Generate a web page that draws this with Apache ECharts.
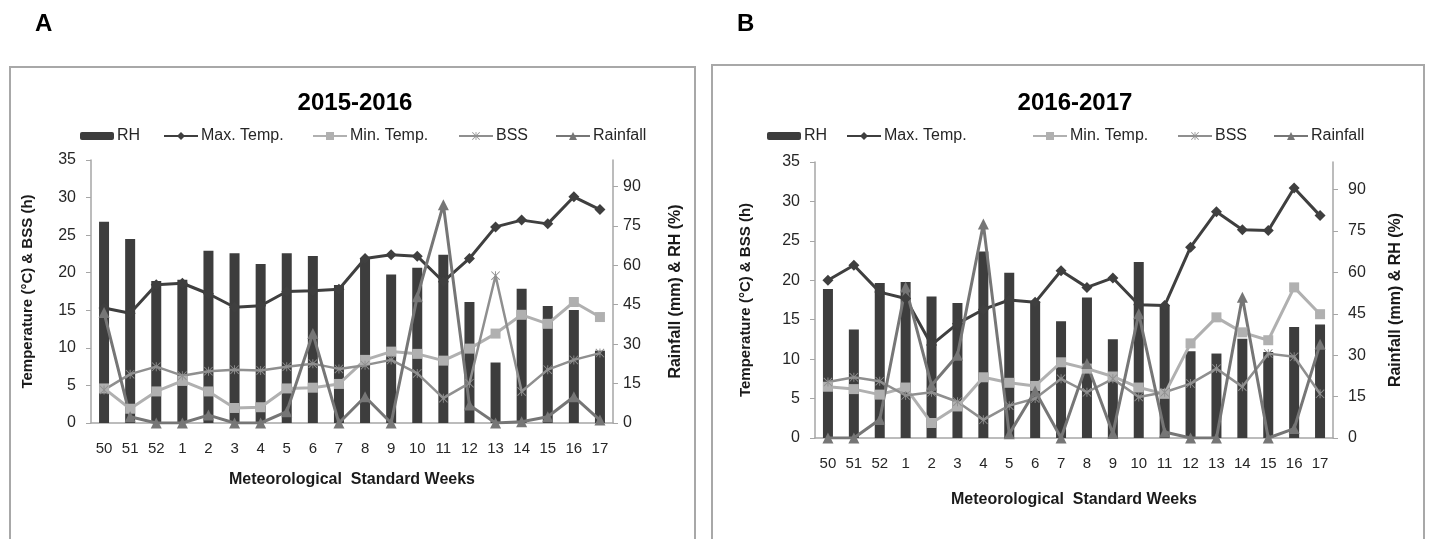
<!DOCTYPE html>
<html>
<head>
<meta charset="utf-8">
<script src="https://cdn.jsdelivr.net/npm/echarts@6/dist/echarts.min.js"></script>
<style>
html, body { margin: 0; padding: 0; background: #ffffff; }
#main { width: 1429px; height: 539px; }
</style>
</head>
<body>
<div id="main"></div>
<script>
// meteorological standard weeks (x axis)
var weeks = ['50', '51', '52', '1', '2', '3', '4', '5', '6', '7', '8', '9', '10', '11', '12', '13', '14', '15', '16', '17'];

// 2015-2016 (panel A)
var rhA = [76.5, 70, 54, 54.5, 65.5, 64.5, 60.5, 64.5, 63.5, 52.5, 62.5, 56.5, 59, 64, 46, 23, 51, 44.5, 43, 27.5];
var maxA = [15.3, 14.6, 18.4, 18.6, 17.2, 15.4, 15.6, 17.5, 17.6, 17.8, 21.9, 22.4, 22.2, 18.8, 21.9, 26.1, 27.0, 26.5, 30.1, 28.4];
var minA = [4.6, 1.9, 4.2, 5.6, 4.2, 2.0, 2.1, 4.6, 4.7, 5.2, 8.4, 9.5, 9.2, 8.3, 9.9, 11.9, 14.4, 13.2, 16.1, 14.1];
var bssA = [4.4, 6.5, 7.5, 6.3, 6.9, 7.1, 7.0, 7.5, 7.9, 7.2, 7.7, 8.4, 6.6, 3.3, 5.3, 19.6, 4.2, 7.1, 8.4, 9.3];
var rainA = [42, 2.4, 0, 0, 3, 0, 0, 4.3, 34, 0, 10, 0, 48, 83, 6.8, 0, 0.5, 2.4, 10, 1.1];

// 2016-2017 (panel B)
var rhB = [54, 39.3, 56.2, 56.5, 51.3, 48.9, 67.6, 59.9, 49.5, 42.3, 50.9, 35.8, 63.8, 48, 31.4, 30.6, 36, 31.2, 40.2, 41.1];
var maxB = [20.0, 21.9, 18.5, 17.7, 11.8, 14.5, 16.3, 17.5, 17.2, 21.2, 19.1, 20.3, 16.9, 16.8, 24.2, 28.7, 26.4, 26.3, 31.7, 28.2];
var minB = [6.5, 6.2, 5.5, 6.4, 1.9, 4.0, 7.7, 7.0, 6.6, 9.6, 8.8, 7.8, 6.4, 5.6, 12.0, 15.3, 13.4, 12.4, 19.1, 15.7];
var bssB = [7.1, 7.7, 7.2, 5.4, 5.8, 4.6, 2.3, 4.1, 5.0, 7.5, 5.8, 7.5, 5.2, 5.8, 6.9, 8.8, 6.5, 10.7, 10.3, 5.6];
var rainB = [0, 0, 6.7, 54.7, 19.1, 30, 77.5, 1.5, 17, 0, 27, 1.6, 45, 2.2, 0, 0, 51, 0, 3.4, 34];

var FONT = 'Liberation Sans, Arial, sans-serif';
var TXT = '#262626';
var AXIS = '#a6a6a6';
// asterisk marker for BSS
var STAR = 'path://M9,0L11,0L11,20L9,20Z M0,1.4L1.4,0L20,18.6L18.6,20Z M18.6,0L20,1.4L1.4,20L0,18.6Z';

/**
 * series of one panel
 * idx : 0 = A, 1 = B
 */
function panelSeries(idx, rh, maxT, minT, bss, rain) {
	var left = idx * 2, right = idx * 2 + 1;
	return [
		{ name: 'RH', type: 'bar', xAxisIndex: idx, yAxisIndex: right, data: rh, barWidth: 10,
			itemStyle: { color: '#3d3d3d' } },
		{ name: 'Max. Temp.', type: 'line', xAxisIndex: idx, yAxisIndex: left, data: maxT,
			symbol: 'diamond', symbolSize: 11, showAllSymbol: true,
			lineStyle: { color: '#3f3f3f', width: 3 }, itemStyle: { color: '#3f3f3f' } },
		{ name: 'Min. Temp.', type: 'line', xAxisIndex: idx, yAxisIndex: left, data: minT,
			symbol: 'rect', symbolSize: 10, showAllSymbol: true,
			lineStyle: { color: '#b0b0b0', width: 3 }, itemStyle: { color: '#b0b0b0' } },
		{ name: 'BSS', type: 'line', xAxisIndex: idx, yAxisIndex: left, data: bss,
			symbol: STAR, symbolSize: 9, showAllSymbol: true,
			lineStyle: { color: '#8f8f8f', width: 2.5 }, itemStyle: { color: '#8f8f8f' } },
		{ name: 'Rainfall', type: 'line', xAxisIndex: idx, yAxisIndex: right, data: rain,
			symbol: 'triangle', symbolSize: 11, showAllSymbol: true,
			lineStyle: { color: '#767676', width: 3 }, itemStyle: { color: '#767676' } }
	];
}

// one legend per entry so each can be placed like the original
function legendItem(name, left, h) {
	return {
		data: [name], left: left, top: 123, itemWidth: 34, itemHeight: h, itemGap: 0,
		selectedMode: false,
		textStyle: { fontFamily: FONT, fontSize: 16, color: TXT, padding: [0, 0, 0, -2] }
	};
}

function xAxisOf(idx, gap) {
	return {
		type: 'category', gridIndex: idx, data: weeks,
		name: 'Meteorological  Standard Weeks', nameLocation: 'middle', nameGap: gap,
		nameTextStyle: { fontFamily: FONT, fontSize: 16, fontWeight: 'bold', color: '#1a1a1a' },
		axisLine: { lineStyle: { color: AXIS, width: 1.5 } },
		axisTick: { length: 5, lineStyle: { color: AXIS } },
		axisLabel: { fontFamily: FONT, fontSize: 15, color: TXT, margin: 18, interval: 0 }
	};
}

function leftAxis(idx, gap) {
	return {
		type: 'value', gridIndex: idx, position: 'left', min: 0, max: 35, interval: 5,
		name: 'Temperature (°C) & BSS (h)', nameLocation: 'middle', nameGap: gap, nameRotate: 90,
		nameTextStyle: { fontFamily: FONT, fontSize: 15, fontWeight: 'bold', color: '#1a1a1a' },
		axisLine: { show: true, lineStyle: { color: AXIS, width: 1.5 } },
		axisTick: { show: true, length: 5, lineStyle: { color: AXIS } },
		axisLabel: { fontFamily: FONT, fontSize: 16, color: TXT, margin: 15 },
		splitLine: { show: false }
	};
}

function rightAxis(idx, gap, margin) {
	return {
		type: 'value', gridIndex: idx, position: 'right', min: 0, max: 100, interval: 15,
		name: 'Rainfall (mm) & RH (%)', nameLocation: 'middle', nameGap: gap, nameRotate: 90,
		nameTextStyle: { fontFamily: FONT, fontSize: 16, fontWeight: 'bold', color: '#1a1a1a' },
		axisLine: { show: true, lineStyle: { color: AXIS, width: 1.5 } },
		axisTick: { show: true, length: 5, lineStyle: { color: AXIS } },
		axisLabel: { fontFamily: FONT, fontSize: 16, color: TXT, margin: margin, showMaxLabel: false },
		splitLine: { show: false }
	};
}

var option = {
	backgroundColor: '#ffffff',
	animation: false,
	title: [
		{ text: '2015-2016', left: 350, top: 86, textAlign: 'center',
			textStyle: { fontFamily: FONT, fontSize: 24, fontWeight: 'bold', color: '#000' } },
		{ text: '2016-2017', left: 1070, top: 86, textAlign: 'center',
			textStyle: { fontFamily: FONT, fontSize: 24, fontWeight: 'bold', color: '#000' } }
	],
	legend: [
		legendItem('RH', 75, 8), legendItem('Max. Temp.', 158, 10), legendItem('Min. Temp.', 307, 10),
		legendItem('BSS', 453, 10), legendItem('Rainfall', 550, 10),
		legendItem('RH', 762, 8), legendItem('Max. Temp.', 841, 10), legendItem('Min. Temp.', 1027, 10),
		legendItem('BSS', 1172, 10), legendItem('Rainfall', 1268, 10)
	],
	grid: [
		{ left: 91, top: 160, width: 522, height: 263, outerBoundsMode: 'none' },
		{ left: 815, top: 162, width: 518, height: 276, outerBoundsMode: 'none' }
	],
	xAxis: [xAxisOf(0, 49), xAxisOf(1, 54)],
	yAxis: [leftAxis(0, 56), rightAxis(0, 55, 10), leftAxis(1, 62), rightAxis(1, 55, 15)],
	series: panelSeries(0, rhA, maxA, minA, bssA, rainA).concat(panelSeries(1, rhB, maxB, minB, bssB, rainB)),
	graphic: [
		{ type: 'rect', shape: { x: 10, y: 67, width: 685, height: 520 }, silent: true,
			style: { fill: 'none', stroke: '#a8a8a8', lineWidth: 2 } },
		{ type: 'rect', shape: { x: 712, y: 65, width: 712, height: 520 }, silent: true,
			style: { fill: 'none', stroke: '#a8a8a8', lineWidth: 2 } },
		{ type: 'text', left: 35, top: 12, style: { text: 'A', font: 'bold 24px ' + FONT, fill: '#000' } },
		{ type: 'text', left: 737, top: 12, style: { text: 'B', font: 'bold 24px ' + FONT, fill: '#000' } }
	]
};

var myChart = echarts.init(document.getElementById('main'));
myChart.setOption(option);
</script>
</body>
</html>
